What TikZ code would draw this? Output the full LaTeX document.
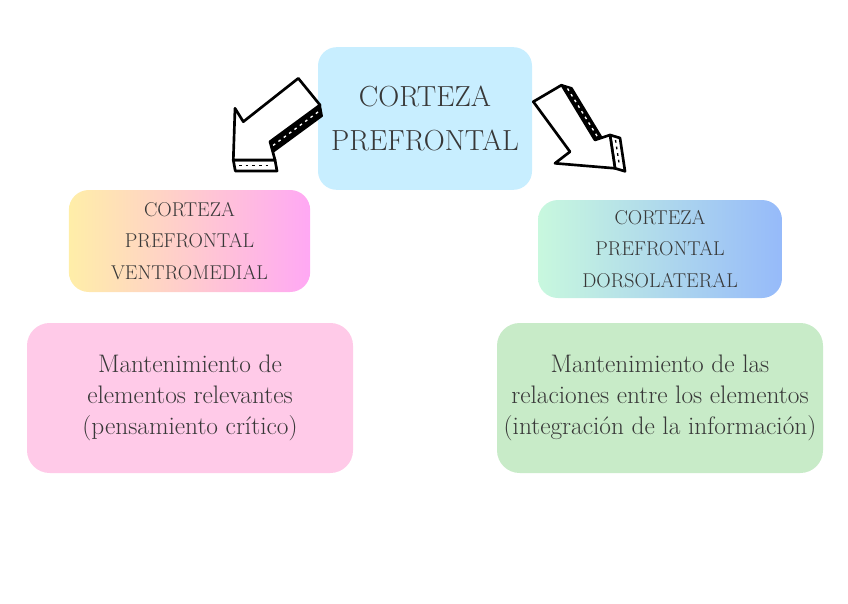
\documentclass[tikz,border=0pt]{standalone}
\usepackage{tikz}

\definecolor{cortezaAzul}{RGB}{200,238,255}
\definecolor{vmAmarillo}{RGB}{255,238,168}
\definecolor{vmRosa}{RGB}{255,168,244}
\definecolor{dlMenta}{RGB}{200,248,222}
\definecolor{dlAzul}{RGB}{150,186,250}
\definecolor{rosaPalido}{RGB}{255,202,232}
\definecolor{verdePalido}{RGB}{200,235,200}
\definecolor{textoGris}{RGB}{56,56,56}

\tikzset{every picture/.style={line width=0.75pt}}
\tikzset{
	caja/.style={rectangle, rounded corners=14pt, align=center, text=textoGris, inner sep=0pt},
	titulo/.style={caja, font=\fontsize{21.8}{32.5}\selectfont},
	subtitulo/.style={caja, rounded corners=15pt, font=\fontsize{15}{23.5}\selectfont},
	funcion/.style={caja, rounded corners=17pt, font=\fontsize{19}{23.5}\selectfont},
	flecha/.style={line width=2pt, line join=round},
	cara/.style={fill=black, line width=1.4pt, line join=round}
}

\begin{document}
\begin{tikzpicture}[x=0.75pt,y=0.75pt,yscale=-1,xscale=1]
	\useasboundingbox (0,0) rectangle (848,603);

	%Shape: Rounded Rect [id:corteza]
	\node [titulo, fill=cortezaAzul, minimum width=160.5pt, minimum height=107pt] (corteza) at (425,118.5) {CORTEZA\\PREFRONTAL};
	%Shape: Rounded Rect [id:ventromedial]
	\node [subtitulo, left color=vmAmarillo, right color=vmRosa, minimum width=181pt, minimum height=76.5pt] (ventromedial) at (189.5,241) {CORTEZA\\PREFRONTAL\\VENTROMEDIAL};
	%Shape: Rounded Rect [id:dorsolateral]
	\node [subtitulo, left color=dlMenta, right color=dlAzul, minimum width=183pt, minimum height=73.5pt] (dorsolateral) at (660,249) {CORTEZA\\PREFRONTAL\\DORSOLATERAL};
	%Shape: Rounded Rect [id:relevantes]
	\node [funcion, fill=rosaPalido, minimum width=244.5pt, minimum height=112.5pt] (relevantes) at (190,398) {Mantenimiento de\\elementos relevantes\\(pensamiento crítico)};
	%Shape: Rounded Rect [id:relaciones]
	\node [funcion, fill=verdePalido, minimum width=244.5pt, minimum height=112.5pt] (relaciones) at (660,398) {Mantenimiento de las\\relaciones entre los elementos\\(integración de la información)};

	%Shape: Arrow left [id:flechaIzq] side faces
	\draw [cara] (320,105) -- (270,141.7) -- (272,152.7) -- (322,116) -- cycle ;
	\draw [cara] (270,141.7) -- (275,160) -- (277,171) -- (272,152.7) -- cycle ;
	\draw [flecha, fill=white] (233.3,160) -- (275,160) -- (277,171) -- (235.3,171) -- cycle ;
	\draw [white, line width=1pt, dash pattern=on 2pt off 3pt] (318,112) -- (273,145.5) ;
	\draw [black, line width=1pt, dash pattern=on 2pt off 3pt] (239,165.5) -- (272,165.5) ;
	%Shape: Arrow left [id:flechaIzq] front
	\draw [flecha, fill=white] (298.3,78.3) -- (320,105) -- (270,141.7) -- (275,160) -- (233.3,160) -- (235,108.3) -- (243.3,121.7) -- cycle ;

	%Shape: Arrow right [id:flechaDer] side faces
	\draw [cara] (561.7,85) -- (595,140) -- (605,143) -- (571.7,88) -- cycle ;
	\draw [cara] (595,140) -- (610,135) -- (620,138) -- (605,143) -- cycle ;
	\draw [flecha, fill=white] (610,135) -- (615,168.3) -- (625,171.3) -- (620,138) -- cycle ;
	\draw [white, line width=1pt, dash pattern=on 2pt off 3pt] (567.5,88.5) -- (599.5,140) ;
	\draw [black, line width=1pt, dash pattern=on 2pt off 3pt] (615.5,140) -- (619.5,166) ;
	%Shape: Arrow right [id:flechaDer] front
	\draw [flecha, fill=white] (533.3,101.7) -- (561.7,85) -- (595,140) -- (610,135) -- (615,168.3) -- (555,163.3) -- (570,151.7) -- cycle ;

\end{tikzpicture}
\end{document}
